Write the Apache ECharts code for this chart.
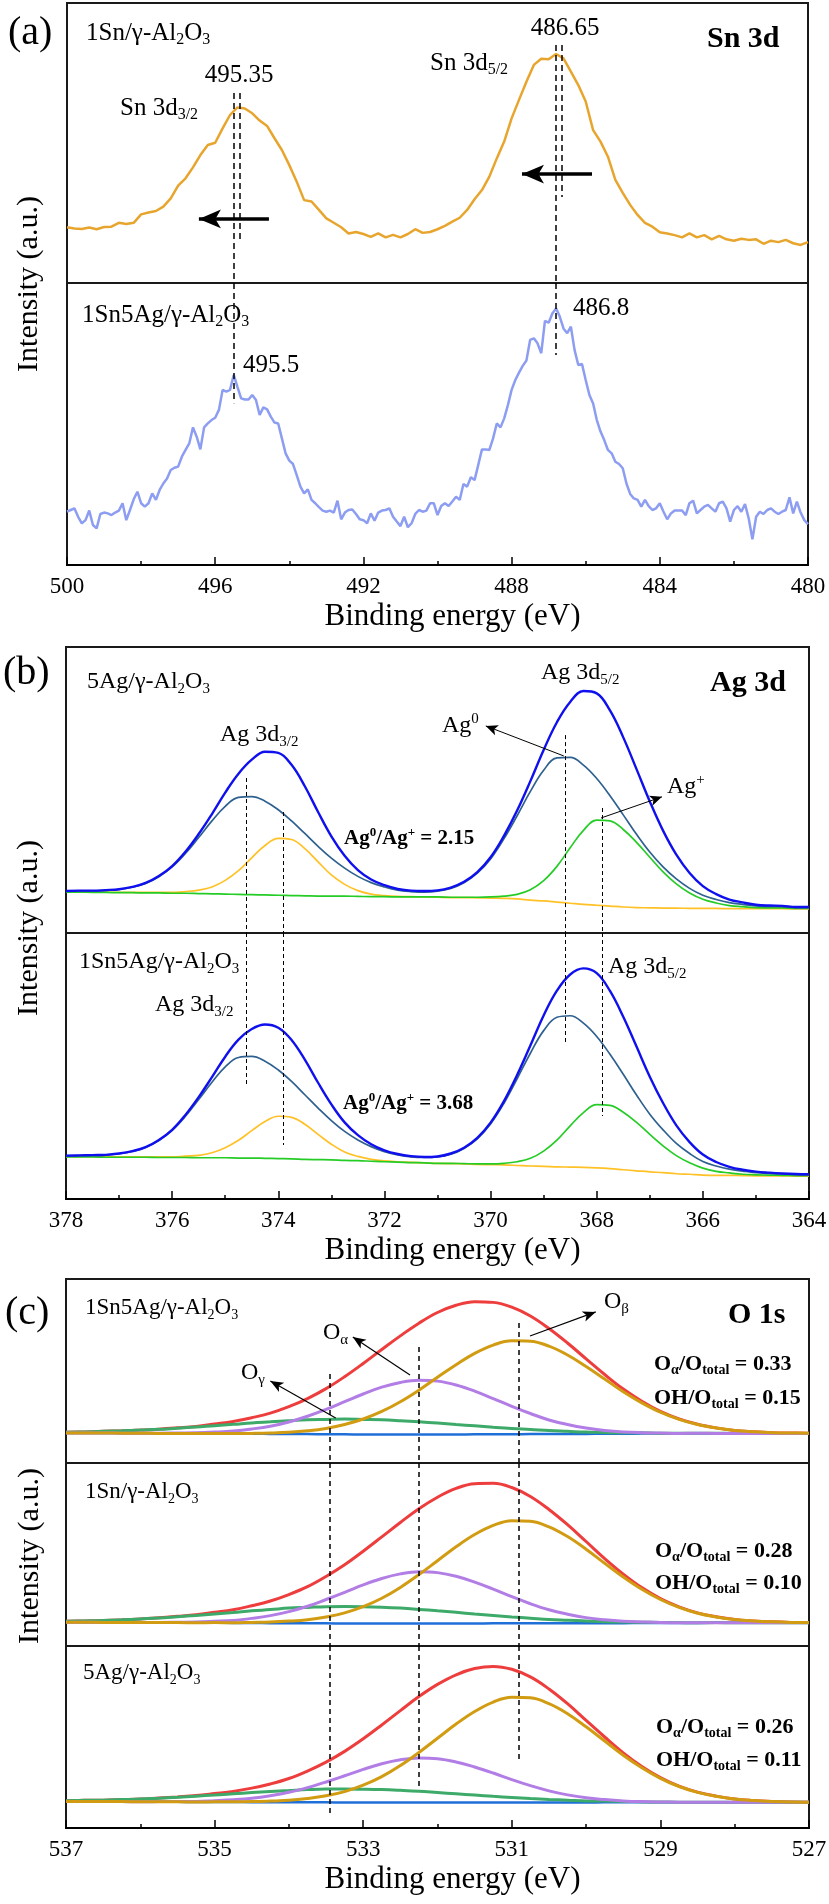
<!DOCTYPE html>
<html>
<head>
<meta charset="utf-8">
<script src="https://cdn.jsdelivr.net/npm/echarts@6/dist/echarts.min.js"></script>
<style>
  html, body { margin: 0; padding: 0; background: #fff; }
  #chart { width: 829px; height: 1904px; }
</style>
</head>
<body>
<div id="chart"></div>
<script>
var FONT = "'Liberation Serif', 'Times New Roman', Times, serif";

// ---------- (a) Sn 3d : scans start at 500 eV ----------
var snStart = 500;
var snStepSn = 0.2;      // 1Sn/γ-Al2O3 scan step
var snStepSnAg = 0.1;    // 1Sn5Ag/γ-Al2O3 scan step
var sn3d_1Sn = [
  19.9,19.5,19.3,19.8,19.2,20.0,20.1,21.5,21.1,21.5,
  24.5,25.2,25.7,27.3,30.2,34.8,37.4,41.3,45.7,49.3,
  50.1,55.2,60.0,62.7,62.3,60.6,58.0,56.1,51.7,47.5,
  42.1,36.2,29.6,29.1,26.1,23.1,21.5,19.9,17.7,18.2,
  17.5,16.5,17.7,16.3,17.2,16.3,17.5,19.2,17.9,18.2,
  19.2,20.4,21.9,23.3,26.1,29.9,33.2,38.0,44.5,50.5,
  58.8,65.4,71.9,77.9,80.1,79.9,81.8,80.2,75.5,70.7,
  64.8,54.6,50.5,45.1,36.8,32.2,27.9,24.3,21.5,20.1,
  18.1,17.7,17.1,16.3,17.7,16.3,17.1,15.6,16.8,15.6,
  15.1,15.8,15.4,15.6,14.0,15.1,14.6,15.4,14.2,13.6,14.6
];
var sn3d_1Sn5Ag = [
  18.9,19.5,20.1,17.1,14.8,15.9,19.3,14.2,13.0,18.1,
  18.6,18.3,17.7,18.6,19.3,21.9,15.9,19.5,23.3,26.0,
  21.9,20.7,21.9,25.4,23.1,26.6,28.9,30.7,33.7,34.5,
  34.9,38.4,40.8,43.1,48.8,45.5,41.0,48.8,50.2,51.4,
  52.2,55.0,62.1,61.5,62.1,67.4,63.2,59.1,58.7,58.7,
  60.3,58.5,53.2,55.9,55.2,52.6,50.5,50.2,44.9,39.6,
  37.0,35.8,31.9,27.8,25.4,26.8,23.1,21.9,20.5,19.3,
  18.9,19.3,18.6,22.8,16.2,18.6,19.5,19.7,18.1,16.2,
  15.9,14.8,18.3,15.7,18.6,19.3,19.5,20.1,17.1,15.4,
  13.8,17.1,13.4,14.8,18.1,19.5,18.9,19.3,21.9,21.9,
  17.7,20.9,21.9,20.9,22.5,24.2,23.1,28.7,27.8,31.1,
  30.1,35.5,41.0,41.0,40.8,44.9,50.2,48.8,52.0,56.7,
  62.1,65.6,68.2,70.6,72.5,79.8,80.4,78.6,75.1,86.6,
  85.9,89.2,91.0,88.1,83.9,82.2,84.5,76.2,70.9,71.3,
  65.6,60.3,57.3,51.4,47.3,44.3,40.8,39.6,36.6,35.8,
  34.3,28.9,25.2,23.6,23.1,20.7,23.1,20.9,19.5,20.1,
  21.9,18.9,16.2,18.3,19.3,19.3,19.3,17.7,21.9,22.8,
  18.3,19.5,20.7,21.3,20.1,18.9,21.9,22.5,20.1,15.4,
  19.5,20.9,18.9,21.6,16.5,9.1,17.1,18.9,18.1,19.5,
  20.1,18.9,18.1,18.9,19.5,24.0,18.3,22.5,18.6,15.9,
  14.5
];

// ---------- (b) Ag 3d : 378 -> 364 eV, 0.25 eV ----------
var agStart = 378, agStep = 0.25;
var agBg_5Ag = [
  14.3,14.3,14.2,14.2,14.1,14.1,14.0,14.0,13.9,13.9,
  13.8,13.7,13.6,13.5,13.4,13.3,13.2,13.1,13.0,12.9,
  12.8,12.8,12.7,12.6,12.6,12.5,12.5,12.4,12.4,12.3,
  12.3,12.2,12.1,12.0,11.8,11.5,11.2,10.8,10.4,10.0,
  9.7,9.4,9.1,8.9,8.8,8.7,8.7,8.6,8.6,8.6,
  8.5,8.5,8.5,8.5,8.5,8.4,8.4
];
var ag0_5Ag = [
  0.3,0.4,0.5,0.7,1.1,1.9,3.3,5.7,9.2,13.9,
  19.6,25.5,30.7,33.9,34.3,32.8,29.9,26.1,21.8,17.4,
  13.4,9.9,7.1,5.0,3.5,2.5,2.0,1.9,2.2,3.3,
  5.3,8.7,13.8,20.9,29.2,38.0,45.7,50.4,51.0,48.7,
  44.3,38.6,32.2,25.6,19.5,14.4,10.2,7.0,4.6,3.1,
  2.1,1.5,1.0,0.8,0.7,0.5,0.5
];
var agPlus32_5Ag = [
  0.1,0.1,0.1,0.1,0.1,0.1,0.2,0.2,0.3,0.6,
  1.2,2.4,4.8,8.3,12.9,17.3,19.9,19.6,16.5,12.0,
  7.5,4.2,2.1,1.0,0.5,0.3,0.2,0.2,0.1,0.1,
  0.1,0.1,0.1,0.1,0.1,0,0,0,0,0,
  0,0,0,0,0,0,0,0,0,0,
  0,0,0,0,0,0,0
];
var agPlus52_5Ag = [
  0,0,0,0,0,0,0,0,0,0,
  0,0,0,0,0,0,0,0,0,0,
  0.1,0.1,0.1,0.1,0.1,0.1,0.1,0.2,0.2,0.2,
  0.2,0.3,0.5,0.9,1.7,3.6,7.1,12.5,19.4,25.9,
  29.8,29.8,27.1,22.8,17.7,12.7,8.5,5.4,3.2,1.9,
  1.1,0.7,0.4,0.3,0.3,0.2,0.2
];
var agBg_1Sn5Ag = [
  15.8,15.8,15.8,15.7,15.7,15.7,15.7,15.6,15.6,15.6,
  15.5,15.5,15.5,15.4,15.4,15.3,15.2,15.1,14.9,14.8,
  14.6,14.4,14.3,14.1,13.9,13.8,13.6,13.5,13.3,13.2,
  13.1,12.9,12.8,12.7,12.6,12.4,12.3,12.1,12.0,11.9,
  11.7,11.4,11.0,10.6,10.2,9.9,9.5,9.3,9.0,8.9,
  8.9,8.8,8.7,8.7,8.7,8.6,8.6
];
var ag0_1Sn5Ag = [
  0.4,0.5,0.6,0.8,1.3,2.2,3.7,6.4,10.2,15.5,
  21.9,28.4,34.2,37.8,38.2,36.5,33.3,29.1,24.3,19.4,
  14.9,11.0,7.9,5.6,3.9,2.8,2.2,2.1,2.5,3.6,
  5.9,9.7,15.4,23.2,32.6,42.4,51.0,56.2,56.9,54.2,
  49.4,43.0,35.9,28.5,21.7,16.1,11.4,7.8,5.1,3.5,
  2.3,1.7,1.2,0.9,0.7,0.6,0.5
];
var agPlus32_1Sn5Ag = [
  0.1,0.1,0.1,0.1,0.1,0.1,0.1,0.2,0.2,0.5,
  0.9,1.9,3.8,6.7,10.3,13.8,15.9,15.6,13.2,9.5,
  6.0,3.3,1.7,0.8,0.4,0.2,0.2,0.1,0.1,0.1,
  0.1,0.1,0.1,0.1,0,0,0,0,0,0,
  0,0,0,0,0,0,0,0,0,0,
  0,0,0,0,0,0,0
];
var agPlus52_1Sn5Ag = [
  0,0,0,0,0,0,0,0,0,0,
  0,0,0,0,0,0,0,0,0,0,
  0.1,0.1,0.1,0.1,0.1,0.1,0.1,0.1,0.1,0.2,
  0.2,0.3,0.4,0.7,1.4,2.9,5.7,10.0,15.5,20.6,
  23.8,23.8,21.6,18.2,14.1,10.1,6.8,4.3,2.6,1.5,
  0.9,0.5,0.4,0.3,0.2,0.2,0.2
];

// ---------- (c) O 1s : 537 -> 527 eV, 0.25 eV ----------
var oStart = 537, oStep = 0.25;
var oBg_1Sn5Ag = [16.3,16.3,16.3,16.2,16.2,16.1,16.1,16.0,16.0,15.9,15.9,15.8,15.7,15.7,15.6,15.6,15.5,15.5,15.5,15.5,15.5,15.5,15.6,15.6,15.6,15.7,15.7,15.8,15.8,15.9,15.9,16.0,16.0,16.0,16.1,16.1,16.1,16.1,16.1,16.1,16.1];
var oBeta_1Sn5Ag = [0,0,0,0,0,0,0,0,0.1,0.1,0.2,0.5,1.0,1.8,3.2,5.3,8.4,12.5,17.8,24.1,31.1,37.9,44.0,48.5,50.8,50.5,47.8,42.9,36.6,29.7,22.8,16.7,11.6,7.7,4.8,2.9,1.6,0.9,0.4,0.2,0.1];
var oAlpha_1Sn5Ag = [0,0,0,0,0,0.1,0.2,0.4,0.8,1.5,2.6,4.2,6.6,9.7,13.5,17.7,22.0,25.7,28.3,29.5,29.0,26.9,23.5,19.4,15.2,11.2,7.7,5.1,3.2,1.8,1.0,0.5,0.3,0.1,0.1,0,0,0,0,0,0];
var oGamma_1Sn5Ag = [0.4,0.6,0.9,1.3,1.7,2.2,2.8,3.5,4.3,5.1,5.9,6.6,7.3,7.8,8.1,8.3,8.2,8.0,7.5,6.9,6.2,5.4,4.6,3.8,3.1,2.5,1.9,1.4,1.0,0.7,0.5,0.4,0.2,0.2,0.1,0.1,0,0,0,0,0];
var oBg_1Sn = [13.0,13.0,12.9,12.9,12.9,12.8,12.8,12.7,12.7,12.6,12.6,12.5,12.5,12.4,12.4,12.3,12.3,12.3,12.3,12.3,12.3,12.3,12.3,12.4,12.4,12.4,12.4,12.5,12.5,12.5,12.5,12.6,12.6,12.6,12.6,12.7,12.7,12.7,12.7,12.7,12.7];
var oBeta_1Sn = [0,0,0,0,0,0,0,0,0.1,0.1,0.3,0.6,1.1,2.0,3.5,5.8,9.2,13.8,19.7,26.7,34.3,41.9,48.6,53.5,56.1,55.8,52.7,47.3,40.4,32.7,25.2,18.4,12.8,8.5,5.3,3.2,1.8,1.0,0.5,0.2,0.1];
var oAlpha_1Sn = [0,0,0,0,0,0.1,0.2,0.4,0.8,1.4,2.5,4.1,6.3,9.3,13.0,17.0,21.1,24.6,27.1,28.3,27.8,25.8,22.6,18.7,14.6,10.7,7.4,4.9,3.0,1.8,1.0,0.5,0.2,0.1,0.1,0,0,0,0,0,0];
var oGamma_1Sn = [0.5,0.7,1.0,1.4,1.9,2.5,3.2,4.0,4.8,5.7,6.6,7.4,8.2,8.7,9.1,9.3,9.2,8.9,8.4,7.7,6.9,6.1,5.2,4.3,3.5,2.8,2.1,1.6,1.2,0.8,0.6,0.4,0.3,0.2,0.1,0.1,0,0,0,0,0];
var oBg_5Ag = [14.6,14.6,14.5,14.5,14.4,14.4,14.4,14.3,14.3,14.3,14.2,14.2,14.1,14.1,14.1,14.0,14.0,14.0,14.0,14.0,14.0,14.0,14.0,14.0,14.0,14.0,14.0,14.0,14.0,14.1,14.1,14.1,14.1,14.1,14.1,14.1,14.1,14.1,14.1,14.1,14.1];
var oBeta_5Ag = [0,0,0,0,0,0,0,0,0.1,0.1,0.3,0.6,1.1,2.1,3.6,6.0,9.5,14.2,20.3,27.5,35.3,43.1,50.0,55.2,57.8,57.5,54.3,48.8,41.6,33.7,25.9,19.0,13.2,8.7,5.5,3.3,1.8,1.0,0.5,0.2,0.1];
var oAlpha_5Ag = [0,0,0,0,0,0.1,0.2,0.3,0.7,1.2,2.1,3.5,5.5,8.1,11.2,14.7,18.2,21.3,23.5,24.5,24.1,22.3,19.5,16.2,12.6,9.3,6.4,4.2,2.6,1.5,0.8,0.4,0.2,0.1,0,0,0,0,0,0,0];
var oGamma_5Ag = [0.4,0.6,0.8,1.1,1.5,2.0,2.5,3.2,3.8,4.5,5.3,5.9,6.5,7.0,7.3,7.4,7.3,7.1,6.7,6.2,5.5,4.8,4.1,3.4,2.8,2.2,1.7,1.3,0.9,0.7,0.5,0.3,0.2,0.1,0.1,0.1,0,0,0,0,0];

// peak markers (binding energies) and arrows, in data units of each sub-plot
var snDash = [[495.5, 67.9, 0], [495.35, 67.9, 14.3], [486.8, 85, 0], [486.65, 85, 30.7]];
var snDashLow = [[495.5, 100, 57.4], [486.8, 100, 74.5]];
var snArrows = [[494.55, 496.44, 22.9], [485.83, 487.72, 38.9]];
var agDash = [[374.6, 54.2, 0], [373.9, 42.3, 0], [368.6, 69.2, 0], [367.9, 43.7, 0]];
var agDashLow = [[374.6, 100, 42.1], [373.9, 100, 20.3], [368.6, 100, 58.6], [367.9, 100, 31.2]];
var agArrows = [[368.62, 61.9, 370.09, 72.4], [367.92, 40.2, 366.77, 47.6]];
var oDashTop = [[533.45, 48.4, 0], [532.25, 63.0, 0], [530.9, 76.1, 0]];
var oDashMid = [[533.45, 100, 0], [532.25, 100, 0], [530.9, 100, 0]];
var oDashLow = [[533.45, 100, 8.2], [532.25, 100, 22.5], [530.9, 100, 36.8]];
var oArrows = [[530.755, 69.0, 529.87, 82.1], [532.37, 47.8, 533.14, 68.5], [533.37, 24.5, 534.25, 44.6]];

function scan(start, step, vals) {
  return vals.map(function (v, i) { return [+(start - i * step).toFixed(2), v]; });
}
function withBg(start, step, bg, vals) {
  return vals.map(function (v, i) { return [+(start - i * step).toFixed(2), +(bg[i] + v).toFixed(2)]; });
}
function fitSum(start, step, bg, comps) {
  return bg.map(function (b, i) {
    var s = b;
    comps.forEach(function (c) { s += c[i]; });
    return [+(start - i * step).toFixed(2), +s.toFixed(2)];
  });
}
function vDash(list) {
  return list.map(function (d) { return [{ coord: [d[0], d[1]] }, { coord: [d[0], d[2]] }]; });
}
function arrowsH(list, w, size) {
  return list.map(function (a) {
    return [{ coord: [a[0], a[2]], lineStyle: { type: 'solid', width: w, color: '#000' } },
            { coord: [a[1], a[2]], symbol: 'arrow', symbolSize: size }];
  });
}
function arrows(list, w, size) {
  return list.map(function (a) {
    return [{ coord: [a[0], a[1]], lineStyle: { type: 'solid', width: w, color: '#000' } },
            { coord: [a[2], a[3]], symbol: 'arrow', symbolSize: size }];
  });
}
function marks(data, dash, w) {
  return { silent: true, animation: false, symbol: ['none', 'none'], label: { show: false },
    emphasis: { disabled: true }, z: 6,
    lineStyle: { color: '#000', type: dash, width: w }, data: data };
}
function line(gi, data, color, width, smooth, extra) {
  var s = { type: 'line', xAxisIndex: gi, yAxisIndex: gi, data: data, smooth: smooth,
    symbol: 'none', showSymbol: false, animation: false, silent: true,
    lineStyle: { color: color, width: width }, itemStyle: { color: color } };
  for (var k in extra) s[k] = extra[k];
  return s;
}

var gridBox = [
  [67, 21, 3, 280], [67, 21, 283, 282],
  [66, 20, 647, 286], [66, 20, 933, 266],
  [66, 20, 1279, 184], [66, 20, 1463, 183], [66, 20, 1646, 182]
];
var xRange = [[480, 500, 4, false], [480, 500, 4, true], [364, 378, 2, false], [364, 378, 2, true],
              [527, 537, 2, false], [527, 537, 2, false], [527, 537, 2, true]];

var grids = gridBox.map(function (g) {
  return { left: g[0], right: g[1], top: g[2], height: g[3], show: true,
    borderColor: '#1a1a1a', borderWidth: 2, backgroundColor: 'transparent', outerBoundsMode: 'none' };
});
var xAxes = xRange.map(function (r, i) {
  var on = r[3];
  return { gridIndex: i, type: 'value', min: r[0], max: r[1], interval: r[2], inverse: true, show: on,
    axisLine: { show: on, onZero: false, lineStyle: { color: '#000', width: 2 } },
    axisTick: { show: on, inside: true, length: 8, lineStyle: { color: '#000', width: 1.5 } },
    minorTick: { show: on, splitNumber: 2, length: 4, lineStyle: { color: '#000', width: 1.5 } },
    splitLine: { show: false }, minorSplitLine: { show: false },
    axisLabel: { show: on, color: '#000', fontFamily: FONT, fontSize: 23, margin: 10 },
    name: on ? 'Binding energy (eV)' : '', nameLocation: 'middle', nameGap: 36,
    nameTextStyle: { color: '#000', fontFamily: FONT, fontSize: 31, padding: [0, 0, 0, 30] } };
});
var yAxes = gridBox.map(function (g, i) {
  return { gridIndex: i, type: 'value', min: 0, max: 100, show: false };
});

var C = { orange: '#E8A52E', lav: '#8C9DF2', env: '#1010EE', ag0: '#2F6190', yel: '#FFC126', grn: '#26CC26',
          red: '#EE3D3D', gold: '#D29C12', purple: '#B27EE6', og: '#3DAA6A', bgBlue: '#1F6FD8' };

var series = [];
// (a)
series.push(line(0, scan(snStart, snStepSn, sn3d_1Sn), C.orange, 2.5, false,
  { markLine: marks(vDash(snDash).concat(arrowsH(snArrows, 3.5, [14, 22])), [6, 4], 1.5) }));
series.push(line(1, scan(snStart, snStepSnAg, sn3d_1Sn5Ag), C.lav, 2.5, false,
  { markLine: marks(vDash(snDashLow), [6, 4], 1.5) }));

// (b)
function agPanel(gi, bg, a0, p32, p52, extraMarks) {
  series.push(line(gi, withBg(agStart, agStep, bg, p32), C.yel, 1.7, 0.4));
  series.push(line(gi, withBg(agStart, agStep, bg, p52), C.grn, 1.7, 0.4));
  series.push(line(gi, withBg(agStart, agStep, bg, a0), C.ag0, 1.7, 0.4));
  series.push(line(gi, fitSum(agStart, agStep, bg, [a0, p32, p52]), C.env, 2.4, 0.4,
    { markLine: marks(extraMarks, [4, 3], 1) }));
}
agPanel(2, agBg_5Ag, ag0_5Ag, agPlus32_5Ag, agPlus52_5Ag, vDash(agDash).concat(arrows(agArrows, 1, [8, 12])));
agPanel(3, agBg_1Sn5Ag, ag0_1Sn5Ag, agPlus32_1Sn5Ag, agPlus52_1Sn5Ag, vDash(agDashLow));

// (c)
function oPanel(gi, bg, be, al, ga, extraMarks) {
  series.push(line(gi, fitSum(oStart, oStep, bg, [be, al, ga]), C.red, 3, 0.4));
  series.push(line(gi, scan(oStart, oStep, bg), C.bgBlue, 2.5, 0.4));
  series.push(line(gi, withBg(oStart, oStep, bg, ga), C.og, 3, 0.4));
  series.push(line(gi, withBg(oStart, oStep, bg, al), C.purple, 3, 0.4));
  series.push(line(gi, withBg(oStart, oStep, bg, be), C.gold, 3, 0.4,
    { markLine: marks(extraMarks, [5, 4], 1.5) }));
}
oPanel(4, oBg_1Sn5Ag, oBeta_1Sn5Ag, oAlpha_1Sn5Ag, oGamma_1Sn5Ag, vDash(oDashTop).concat(arrows(oArrows, 1.2, [8, 13])));
oPanel(5, oBg_1Sn, oBeta_1Sn, oAlpha_1Sn, oGamma_1Sn, vDash(oDashMid));
oPanel(6, oBg_5Ag, oBeta_5Ag, oAlpha_5Ag, oGamma_5Ag, vDash(oDashLow));

// ---------- text labels ----------
function rt(str) {
  var out = '', re = /([_^])\{([^}]*)\}/g, last = 0, m;
  while ((m = re.exec(str))) {
    if (m.index > last) out += '{m|' + str.slice(last, m.index) + '}';
    out += '{' + (m[1] === '_' ? 's' : 'p') + '|' + m[2] + '}';
    last = re.lastIndex;
  }
  if (last < str.length) out += '{m|' + str.slice(last) + '}';
  return out;
}
function txt(x, y, str, size, bold, align, rot) {
  var fw = bold ? 'bold' : 'normal';
  var small = Math.round(size * 0.62);
  var el = { type: 'text', x: x, y: y, z: 20, silent: true,
    style: { text: rt(str), align: align || 'left', verticalAlign: 'middle',
      fontFamily: FONT, fontSize: size, fontWeight: fw, fill: '#000',
      rich: {
        m: { fontFamily: FONT, fontSize: size, fontWeight: fw, lineHeight: Math.round(size * 1.2), fill: '#000' },
        s: { fontFamily: FONT, fontSize: small, fontWeight: fw, lineHeight: small, verticalAlign: 'bottom', fill: '#000' },
        p: { fontFamily: FONT, fontSize: small, fontWeight: fw, lineHeight: small, verticalAlign: 'top', fill: '#000' }
      } } };
  if (rot) el.rotation = rot;
  return el;
}
var labels = [
  // panel letters and y titles
  txt(8, 33, '(a)', 40), txt(3, 673, '(b)', 40), txt(5, 1313, '(c)', 40),
  txt(29, 284, 'Intensity (a.u.)', 30, false, 'center', Math.PI / 2),
  txt(29, 928, 'Intensity (a.u.)', 30, false, 'center', Math.PI / 2),
  txt(30, 1556, 'Intensity (a.u.)', 30, false, 'center', Math.PI / 2),
  // (a)
  txt(86, 33, '1Sn/γ-Al_{2}O_{3}', 25), txt(707, 39, 'Sn 3d', 30, true),
  txt(239, 75, '495.35', 25, false, 'center'), txt(120, 108, 'Sn 3d_{3/2}', 25),
  txt(565, 28, '486.65', 25, false, 'center'), txt(430, 63, 'Sn 3d_{5/2}', 25),
  txt(82, 315, '1Sn5Ag/γ-Al_{2}O_{3}', 25),
  txt(243, 365, '495.5', 25), txt(573, 308, '486.8', 25),
  // (b)
  txt(87, 682, '5Ag/γ-Al_{2}O_{3}', 24), txt(710, 683, 'Ag 3d', 30, true),
  txt(541, 673, 'Ag 3d_{5/2}', 24), txt(220, 735, 'Ag 3d_{3/2}', 24),
  txt(442, 726, 'Ag^{0}', 24), txt(667, 787, 'Ag^{+}', 24),
  txt(344, 839, 'Ag^{0}/Ag^{+} = 2.15', 21, true),
  txt(79, 962, '1Sn5Ag/γ-Al_{2}O_{3}', 24),
  txt(608, 967, 'Ag 3d_{5/2}', 24), txt(155, 1005, 'Ag 3d_{3/2}', 24),
  txt(343, 1104, 'Ag^{0}/Ag^{+} = 3.68', 21, true),
  // (c)
  txt(85, 1308, '1Sn5Ag/γ-Al_{2}O_{3}', 23), txt(728, 1315, 'O 1s', 30, true),
  txt(604, 1302, 'O_{β}', 24), txt(323, 1333, 'O_{α}', 24), txt(241, 1373, 'O_{γ}', 24),
  txt(654, 1364, 'O_{α}/O_{total} = 0.33', 22, true), txt(654, 1398, 'OH/O_{total} = 0.15', 22, true),
  txt(85, 1492, '1Sn/γ-Al_{2}O_{3}', 23),
  txt(655, 1551, 'O_{α}/O_{total} = 0.28', 22, true), txt(655, 1583, 'OH/O_{total} = 0.10', 22, true),
  txt(83, 1673, '5Ag/γ-Al_{2}O_{3}', 23),
  txt(656, 1727, 'O_{α}/O_{total} = 0.26', 22, true), txt(656, 1760, 'OH/O_{total} = 0.11', 22, true)
];

var chart = echarts.init(document.getElementById('chart'), null, { renderer: 'canvas' });
chart.setOption({
  backgroundColor: '#fff',
  animation: false,
  textStyle: { fontFamily: FONT },
  grid: grids,
  xAxis: xAxes,
  yAxis: yAxes,
  series: series,
  graphic: labels
});
</script>
</body>
</html>
